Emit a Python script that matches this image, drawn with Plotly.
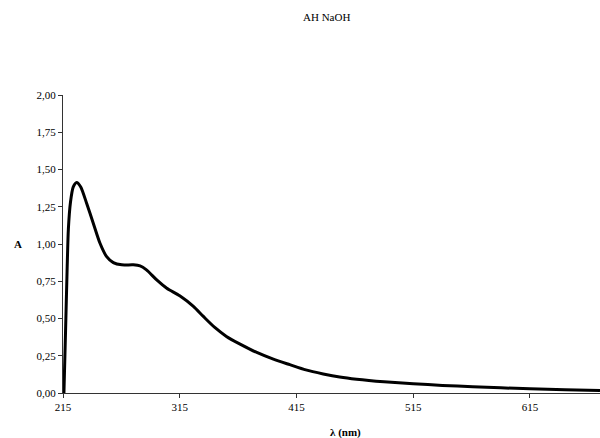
import plotly.graph_objects as go

wavelength = [215.8, 217.2, 218.5, 219.6, 221.4, 223.8, 226.7, 230.2, 235.3, 241.0,
              246.7, 252.4, 258.1, 265.3, 275.3, 281.0, 286.5, 295.3, 303.9, 315.0,
              326.7, 335.2, 345.0, 355.0, 366.7, 381.0, 395.2, 409.3, 423.0, 437.9,
              452.0, 466.5, 490.0, 515.0, 540.0, 566.0, 590.0, 615.0, 645.0, 675.0]
absorbance = [0.00, 0.42, 0.82, 1.10, 1.28, 1.383, 1.413, 1.383, 1.272, 1.138,
              1.005, 0.915, 0.875, 0.86, 0.86, 0.853, 0.826, 0.759, 0.703, 0.652,
              0.581, 0.514, 0.44, 0.38, 0.328, 0.272, 0.227, 0.19, 0.155, 0.128,
              0.107, 0.092, 0.075, 0.062, 0.051, 0.042, 0.035, 0.028, 0.022, 0.017]

x_ticks = [215, 315, 415, 515, 615]
y_ticks = [0, 0.25, 0.5, 0.75, 1.0, 1.25, 1.5, 1.75, 2.0]
y_tick_labels = ["0,00", "0,25", "0,50", "0,75", "1,00", "1,25", "1,50", "1,75", "2,00"]

font_family = "Liberation Serif"

fig = go.Figure()
fig.add_trace(go.Scatter(
    x=wavelength, y=absorbance, mode="lines",
    line=dict(color="black", width=3, shape="spline", smoothing=0.7),
    showlegend=False, hoverinfo="x+y",
))

fig.update_layout(
    width=600, height=438,
    margin=dict(l=63, r=0, t=95, b=44.5, autoexpand=False),
    paper_bgcolor="white", plot_bgcolor="white",
    font=dict(family=font_family, size=11, color="black"),
    showlegend=False,
    annotations=[
        dict(text="AH NaOH", xref="paper", yref="paper", x=0.49, y=1.0,
             yshift=78, xanchor="center", yanchor="middle", showarrow=False,
             font=dict(family=font_family, size=11, color="black")),
        dict(text="<b>A</b>", xref="paper", yref="paper", x=0, y=0.5,
             xshift=-45.5, xanchor="center", yanchor="middle", showarrow=False,
             font=dict(family=font_family, size=11, color="black")),
        dict(text="<b>λ (nm)</b>", xref="paper", yref="paper", x=0.527, y=0,
             yshift=-39.5, xanchor="center", yanchor="middle", showarrow=False,
             font=dict(family=font_family, size=11, color="black")),
    ],
)

fig.update_xaxes(
    range=[215, 675], tickmode="array", tickvals=x_ticks,
    ticktext=[str(v) for v in x_ticks], automargin=False,
    showgrid=False, zeroline=False, showline=True, linecolor="#333333", linewidth=1,
    ticks="outside", ticklen=4, tickcolor="#333333", tickwidth=1,
    tickfont=dict(family=font_family, size=11, color="black"),
)
fig.update_yaxes(
    range=[0, 2], tickmode="array", tickvals=y_ticks, ticktext=y_tick_labels,
    automargin=False,
    showgrid=False, zeroline=False, showline=True, linecolor="#333333", linewidth=1,
    ticks="outside", ticklen=4, tickcolor="#333333", tickwidth=1,
    tickfont=dict(family=font_family, size=11, color="black"),
)

fig.write_html(
    "out.html",
    config={"displayModeBar": False},
    post_script="document.body.style.margin='0';document.body.style.overflow='hidden';",
)
